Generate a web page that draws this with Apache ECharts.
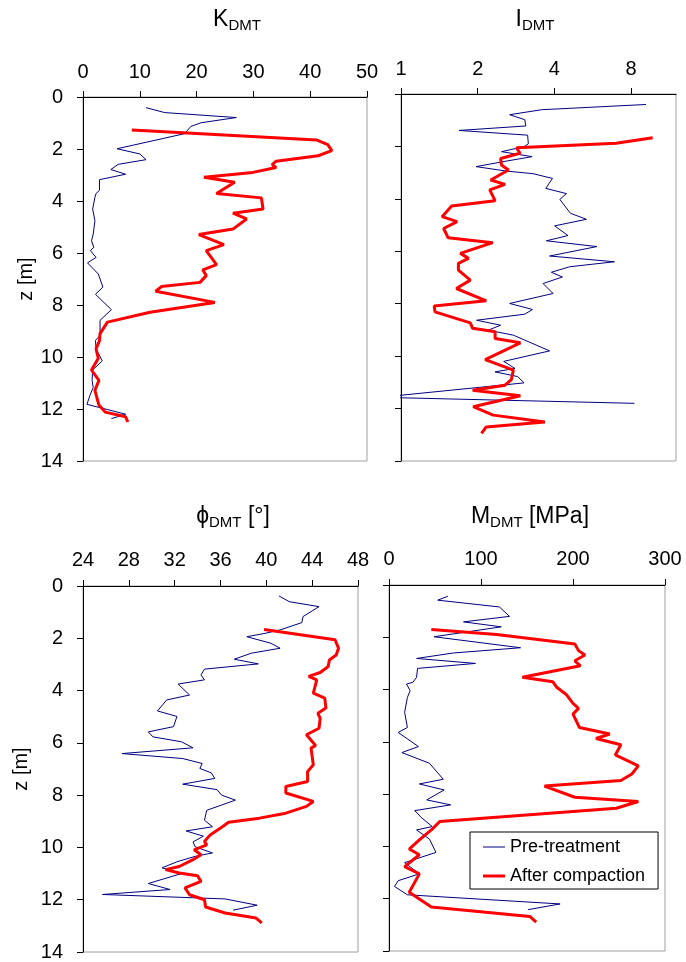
<!DOCTYPE html>
<html><head><meta charset="utf-8">
<script src="https://cdn.jsdelivr.net/npm/echarts@6/dist/echarts.min.js"></script>
<style>html,body{margin:0;padding:0;background:#fff}#c{width:686px;height:962px}</style>
</head><body><div id="c"></div>
<script>
// ---------- DATA (depth z [m] and parameter values) ----------
const kPreDepth = [0.41,0.60,0.79,0.99,1.13,1.41,1.99,2.19,2.41,2.59,2.79,2.97,3.18,3.59,3.71,3.86,4.31,4.76,5.27,5.53,5.78,5.91,6.17,6.38,6.81,7.31,7.59,8.18,8.59,9.17,9.36,9.69,10.15,10.50,10.90,11.17,11.49,11.82,12.20,12.37];
const kPre = [11.1,14.4,27.0,20.8,19.0,17.9,6.0,10.0,11.1,6.2,4.9,7.5,2.9,2.9,2.3,2.1,1.7,2.1,1.8,1.5,1.9,1.3,2.3,0.8,2.7,3.5,2.2,5.0,3.0,3.0,2.2,2.3,3.4,1.7,1.6,1.8,1.2,0.7,7.5,5.0];
const kPostDepth = [1.27,1.65,1.83,2.06,2.26,2.47,2.60,2.71,2.90,3.09,3.28,3.71,3.88,4.31,4.47,4.69,5.08,5.29,5.68,5.91,6.45,6.65,6.87,7.13,7.29,7.47,7.90,8.28,8.66,9.10,9.37,9.69,10.05,10.50,10.90,11.28,11.85,12.12,12.30,12.50];
const kPost = [8.6,41.1,43.1,43.8,41.4,34.0,33.3,34.0,29.9,21.3,26.7,23.5,31.4,31.7,26.4,28.8,26.4,20.4,24.8,21.7,23.5,21.1,21.7,20.6,13.8,12.8,23.2,11.8,4.3,3.0,2.9,2.3,2.7,1.5,2.8,2.1,2.8,3.9,7.5,7.9];

const iPreDepth = [0.40,0.60,0.79,0.98,1.22,1.39,1.57,1.90,2.01,2.20,2.39,2.56,2.77,2.94,3.04,3.22,3.60,3.80,4.02,4.55,4.78,5.03,5.40,5.60,5.82,6.18,6.40,6.59,6.80,6.98,7.23,7.61,7.99,8.22,8.40,8.63,8.82,9.01,9.20,9.80,10.20,10.47,10.60,10.78,11.02,11.57,11.80];
const iPre = [9.15,3.56,2.67,3.06,3.09,1.69,3.14,3.16,3.04,2.48,3.27,2.59,1.97,2.59,3.30,3.93,3.70,4.46,4.20,4.62,5.34,4.01,4.52,3.72,5.87,3.83,6.88,4.59,3.89,4.30,3.61,3.95,2.67,3.28,3.06,1.98,2.46,2.20,2.76,3.83,2.53,2.80,2.34,2.87,3.04,0.83,8.24];
const iPostDepth = [1.67,1.88,2.05,2.26,2.46,2.71,2.90,3.28,3.45,3.66,4.07,4.27,4.68,4.87,5.13,5.48,5.67,6.08,6.27,6.46,6.72,7.10,7.42,7.89,8.09,8.31,8.73,8.94,9.07,9.33,9.49,10.13,10.53,10.90,11.11,11.30,11.51,11.93,12.25,12.51,12.70,12.95];
const iPost = [9.72,6.99,2.84,2.93,2.46,2.48,2.64,2.25,2.56,2.23,2.34,1.58,1.45,1.66,1.47,1.53,2.29,1.71,1.84,1.68,1.68,1.87,1.65,2.16,1.35,1.36,1.87,1.91,2.34,2.34,2.94,2.14,2.76,2.71,2.56,1.91,2.94,1.92,2.30,3.67,2.16,2.07];

const phiPreDepth = [0.38,0.60,0.79,1.17,1.40,1.68,1.81,1.94,2.19,2.38,2.57,2.80,2.98,3.18,3.40,3.59,3.75,4.17,4.36,4.78,4.99,5.38,5.58,5.77,5.96,6.19,6.41,6.60,6.79,6.98,7.15,7.36,7.58,7.79,8.00,8.19,8.58,8.96,9.21,9.37,9.57,9.79,9.98,10.21,10.34,10.55,10.78,11.00,11.38,11.61,11.80,11.97,12.21,12.40];
const phiPre = [41.1,42.0,44.6,43.2,43.1,41.2,39.9,38.3,40.4,41.2,38.7,37.2,39.3,34.6,34.3,34.6,32.3,33.3,31.3,30.5,32.2,31.9,29.7,30.1,32.6,33.6,27.4,32.7,34.4,34.2,35.2,35.5,32.7,35.7,36.1,37.3,34.8,34.6,35.3,33.0,34.5,33.6,33.8,35.3,33.8,32.2,30.9,32.6,29.7,31.6,25.7,36.4,39.2,37.1];
const phiPostDepth = [1.66,2.06,2.38,2.64,2.83,3.08,3.31,3.46,3.59,4.10,4.29,4.67,4.87,5.06,5.44,5.69,6.10,6.20,6.84,7.10,7.48,7.67,7.92,8.24,8.43,8.69,8.88,9.04,9.20,9.52,9.77,9.90,10.09,10.28,10.47,10.73,10.85,10.98,11.08,11.30,11.55,11.81,12.00,12.28,12.51,12.70,12.89];
const phiPost = [39.8,46.0,46.3,46.1,45.5,45.4,44.7,43.7,44.4,44.1,45.1,45.2,44.5,44.7,44.6,43.5,44.3,43.9,44.1,43.6,43.6,41.7,41.7,44.1,43.5,41.7,39.4,36.7,36.2,35.1,34.6,34.8,33.7,34.3,33.6,32.4,31.2,32.4,34.0,34.3,32.9,33.3,34.6,34.7,36.4,39.1,39.6];

const mPreDepth = [0.43,0.58,0.84,1.20,1.41,1.60,1.98,2.40,2.60,2.81,3.00,3.19,3.53,3.72,3.79,4.04,4.30,4.87,5.45,5.64,6.18,6.41,6.82,7.43,7.61,7.84,8.22,8.41,8.63,8.89,9.24,9.37,9.72,10.23,10.62,11.05,11.31,11.53,11.85,12.20,12.42];
const mPre = [64,53,120,131,81,122,49,143,70,30,94,31,30,26,19,23,20,17,20,10,32,14,44,59,33,60,41,67,28,35,47,30,44,51,17,33,10,6,20,186,151];
const mPostDepth = [1.70,1.89,2.26,2.51,2.68,2.90,3.09,3.53,3.70,3.90,4.20,4.53,4.72,4.94,5.45,5.70,5.87,6.11,6.50,6.92,7.23,7.48,7.69,8.12,8.28,8.54,9.05,9.37,9.75,10.10,10.32,10.77,11.05,11.75,12.32,12.68,12.90];
const mPost = [46,117,202,206,213,202,208,145,178,182,193,200,206,200,207,240,225,252,246,271,264,252,169,202,271,247,55,46,33,22,33,17,33,22,46,153,160];

const kTicks = [0, 50, 10];
const iTicks = [1, 2, 4, 8];
const phiTicks = [24, 48, 4];
const mTicks = [0, 300, 100];
const depthTicks = [0, 14, 2];
const seriesNames = ['Pre-treatment', 'After compaction'];

// ---------- CHART ----------
const FONT = '"Liberation Sans", Arial, Helvetica, sans-serif';
const pairs = (vals, depths) => vals.map((v, i) => [v, depths[i]]);
const chart = echarts.init(document.getElementById('c'), null, {renderer: 'canvas'});

const grids = [
  {left: 83, top: 97, width: 284, height: 364},
  {left: 401, top: 94, width: 275, height: 367},
  {left: 83, top: 586, width: 275, height: 366},
  {left: 389, top: 585, width: 276, height: 366}
].map(g => Object.assign({show: true, borderColor: '#a0a0a0', borderWidth: 1, backgroundColor: 'transparent'}, g));

function xAxis(gi, extra, margin) {
  return Object.assign({
    gridIndex: gi, type: 'value', position: 'top',
    axisLine: {show: true, onZero: false, lineStyle: {color: '#000', width: 1}},
    axisTick: {show: true, inside: false, length: 6, lineStyle: {color: '#000'}},
    axisLabel: {fontFamily: FONT, fontSize: 20, color: '#000', margin: margin},
    splitLine: {show: false}
  }, extra);
}
function yAxis(gi, showLabels, nameGap) {
  return {
    gridIndex: gi, type: 'value', inverse: true,
    min: depthTicks[0], max: depthTicks[1], interval: depthTicks[2],
    name: showLabels ? 'z [m]' : '', nameLocation: 'middle', nameGap: nameGap,
    nameTextStyle: {fontFamily: FONT, fontSize: 20, color: '#000'},
    axisLine: {show: true, onZero: false, lineStyle: {color: '#000', width: 1}},
    axisTick: {show: true, inside: false, length: 6, lineStyle: {color: '#000'}},
    axisLabel: {show: showLabels, fontFamily: FONT, fontSize: 20, color: '#000', margin: 20},
    splitLine: {show: false}
  };
}

const blue = {color: '#000080', width: 1};
const red = {color: '#ff0000', width: 3};
function line(name, xi, data, ls) {
  return {
    name: name, type: 'line', xAxisIndex: xi, yAxisIndex: xi, data: data,
    symbol: 'none', showSymbol: false, smooth: false, clip: true,
    lineStyle: ls, itemStyle: {color: ls.color}, emphasis: {disabled: true}
  };
}

const rich = {
  m: {fontFamily: FONT, fontSize: 23, lineHeight: 26, fill: '#000'},
  s: {fontFamily: FONT, fontSize: 15, lineHeight: 14, verticalAlign: 'bottom', fill: '#000'}
};
function titleText(x, y, txt) {
  return {type: 'text', x: x, y: y, silent: true,
    style: {text: txt, align: 'center', verticalAlign: 'top', rich: rich, fill: '#000'}};
}

const option = {
  animation: false,
  backgroundColor: '#fff',
  grid: grids,
  xAxis: [
    xAxis(0, {min: kTicks[0], max: kTicks[1], interval: kTicks[2]}, 15),
    xAxis(1, {type: 'log', logBase: 2, min: 1, max: 12,
      axisTick: {show: true, length: 6, lineStyle: {color: '#000'}, customValues: iTicks},
      axisLabel: {fontFamily: FONT, fontSize: 20, color: '#000', margin: 15, customValues: iTicks,
        formatter: v => String(Math.round(v))}}, 15),
    xAxis(2, {min: phiTicks[0], max: phiTicks[1], interval: phiTicks[2]}, 16),
    xAxis(3, {min: mTicks[0], max: mTicks[1], interval: mTicks[2]}, 16)
  ],
  yAxis: [yAxis(0, true, 47), yAxis(1, false, 0), yAxis(2, true, 52), yAxis(3, false, 0)],
  legend: {
    data: [
      {name: seriesNames[0], icon: 'path://M0,0H22V1H0Z'},
      {name: seriesNames[1], icon: 'path://M0,0H22V3H0Z'}
    ],
    orient: 'vertical', left: 470, top: 832,
    padding: [6, 13, 4, 13], itemWidth: 22, itemHeight: 14, itemGap: 11, symbolKeepAspect: true,
    borderColor: '#000', borderWidth: 1, backgroundColor: '#fff', selectedMode: false,
    textStyle: {fontFamily: FONT, fontSize: 18, color: '#000'}
  },
  graphic: [
    titleText(237, 7, '{m|K}{s|DMT}'),
    titleText(535, 7, '{m|I}{s|DMT}'),
    titleText(233, 504, '{m|ϕ}{s|DMT}{m| [°]}'),
    titleText(530, 504, '{m|M}{s|DMT}{m| [MPa]}')
  ],
  series: [
    line(seriesNames[0], 0, pairs(kPre, kPreDepth), blue),
    line(seriesNames[1], 0, pairs(kPost, kPostDepth), red),
    line(seriesNames[0], 1, pairs(iPre, iPreDepth), blue),
    line(seriesNames[1], 1, pairs(iPost, iPostDepth), red),
    line(seriesNames[0], 2, pairs(phiPre, phiPreDepth), blue),
    line(seriesNames[1], 2, pairs(phiPost, phiPostDepth), red),
    line(seriesNames[0], 3, pairs(mPre, mPreDepth), blue),
    line(seriesNames[1], 3, pairs(mPost, mPostDepth), red)
  ]
};
chart.setOption(option);
</script>
</body></html>
